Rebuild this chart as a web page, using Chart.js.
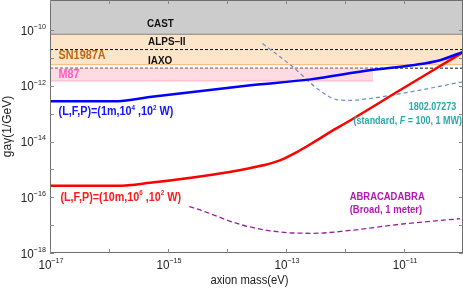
<!DOCTYPE html>
<html>
<head>
<meta charset="utf-8">
<script src="https://cdn.jsdelivr.net/npm/chart.js@4.4.1/dist/chart.umd.min.js"></script>
<style>
  html, body { margin: 0; padding: 0; background: #fff; }
  canvas { display: block; }
</style>
</head>
<body>
<canvas id="chart" width="463" height="291"></canvas>
<script>
// axion mass (eV) and coupling g (1/GeV)
const blueMass = [1e-17, 1.4e-16, 4.9e-16, 2.5e-14, 2.6e-13, 2.6e-12, 1.4e-11, 4.1e-11, 1e-10];
const blueG    = [2.8e-13, 2.8e-13, 4.0e-13, 1.05e-12, 1.7e-12, 3.6e-12, 5.5e-12, 8.3e-12, 1.66e-11];

const redMass = [1e-17, 1.4e-16, 4.9e-16, 1.1e-14, 4.1e-14, 7.9e-14, 1.53e-13, 2.87e-13, 5.57e-13,
                 1.22e-12, 8.5e-12, 6.0e-11, 1e-10];
const redG    = [2.6e-16, 2.6e-16, 3.3e-16, 8.1e-16, 1.4e-15, 2.1e-15, 4.2e-15, 9.1e-15, 2.17e-14,
                 5.7e-14, 6.9e-13, 8.3e-12, 1.6e-11];

const refMass = [4.0e-14, 1.3e-13, 3.4e-13, 7.2e-13, 1.2e-12, 2.6e-12, 1.26e-11, 1e-10];
const refG    = [3.3e-11, 4.8e-12, 7.9e-13, 3.2e-13, 3.0e-13, 3.5e-13, 6.0e-13, 1.4e-12];

const abraMass = [2.3e-15, 3.5e-15, 1.7e-14, 7.1e-14, 2.9e-13, 1.1e-12, 9.5e-12, 8.9e-11];
const abraG    = [4.6e-17, 3.5e-17, 1.05e-17, 5.8e-18, 5.1e-18, 6.3e-18, 1.1e-17, 1.7e-17];

// existing limits
const castLimit = 7e-11;
const alpsLimit = 2e-11;
const snLimit = 5.7e-12;
const iaxoLimit = 4.3e-12;
const m87Top = 4.5e-12;
const m87Limit = 1.5e-12;
const m87MaxMass = 3e-12;

const massRange = [1e-17, 1e-10];
const gRange = [1e-18, 1.2e-9];

// ticks (decade exponents)
const xDecades = [-17, -16, -15, -14, -13, -12, -11, -10];
const xLabelled = [-17, -15, -13, -11];
const yDecades = [-18, -17, -16, -15, -14, -13, -12, -11, -10];
const yLabelled = [-18, -16, -14, -12, -10];

const FAMILY = '"Liberation Sans", Arial, sans-serif';
const SX = 0.9; // figure text is a bit narrow

// text notes, anchored in data space
const notes = [
    { text: 'CAST', x: 4.4e-16, y: 1.6e-10, color: '#111', size: 11 },
    { text: 'ALPS–II', x: 4.6e-16, y: 3.7e-11, color: '#111', size: 11 },
    { text: 'IAXO', x: 4.6e-16, y: 7.6e-12, color: '#111', size: 11 },
    { text: 'SN1987A', x: 1.4e-17, y: 1.2e-11, color: '#c0650c', size: 12 },
    { text: 'M87', x: 1.4e-17, y: 2.6e-12, color: '#ff5cc0', size: 12 },
    { text: '(L,F,P)=(1m,10^{4} ,10^{2} W)', x: 1.4e-17, y: 1.15e-13, color: '#1515ff', size: 12 },
    { text: '(L,F,P)=(10m,10^{6} ,10^{2} W)', x: 1.5e-17, y: 9.8e-17, color: '#ff1a1a', size: 12 },
    { text: '1802.07273', x: 1.2e-11, y: 1.7e-13, color: '#2aa9a9', size: 10 },
    { text: '(standard, *{F} = 100, 1 MW)', x: 1.4e-12, y: 5.4e-14, color: '#2aa9a9', size: 10 },
    { text: 'ABRACADABRA', x: 1.2e-12, y: 1.05e-16, color: '#b01cb0', size: 10.5 },
    { text: '(Broad, 1 meter)', x: 1.2e-12, y: 3.5e-17, color: '#b01cb0', size: 10.5 }
];

function toPoints(xs, ys) {
    return xs.map((x, i) => ({ x: x, y: ys[i] }));
}

function flat(value, xs) {
    return xs.map(x => ({ x: x, y: value }));
}

// split "a^{b}*{c}" into normal / superscript / italic pieces
function splitRich(str) {
    const out = [];
    const re = /([\^*])\{([^}]*)\}/g;
    let last = 0, m;
    while ((m = re.exec(str))) {
        if (m.index > last) out.push({ text: str.slice(last, m.index), t: 'n' });
        out.push({ text: m[2], t: m[1] === '^' ? 's' : 'i' });
        last = re.lastIndex;
    }
    if (last < str.length) out.push({ text: str.slice(last), t: 'n' });
    return out;
}

function drawRich(ctx, str, x, y, o) {
    const size = o.size || 12;
    const weight = o.weight || 'bold';
    const segs = splitRich(str);
    const fontOf = t => (t === 'i' ? 'italic ' : '') + weight + ' ' + (t === 's' ? Math.round(size * 0.62) : size) + 'px ' + FAMILY;
    ctx.save();
    ctx.translate(x, y);
    ctx.scale(SX, 1);
    ctx.textBaseline = 'middle';
    ctx.textAlign = 'left';
    ctx.fillStyle = o.color || '#000';
    let w = 0;
    segs.forEach(s => { ctx.font = fontOf(s.t); s.w = ctx.measureText(s.text).width; w += s.w; });
    let cx = o.align === 'center' ? -w / 2 : (o.align === 'right' ? -w : 0);
    segs.forEach(s => {
        ctx.font = fontOf(s.t);
        ctx.fillText(s.text, cx, s.t === 's' ? -size * 0.33 : 0);
        cx += s.w;
    });
    ctx.restore();
}

const decorPlugin = {
    id: 'decor',
    afterDatasetsDraw(chart) {
        const { ctx, chartArea: a, scales } = chart;
        const xs = scales.x, ys = scales.y;

        // notes
        notes.forEach(n => {
            drawRich(ctx, n.text, xs.getPixelForValue(n.x), ys.getPixelForValue(n.y), { size: n.size, color: n.color });
        });

        // frame
        ctx.save();
        ctx.strokeStyle = '#6e6e6e';
        ctx.lineWidth = 1;
        ctx.strokeRect(a.left + 0.5, a.top + 0.5, a.right - a.left - 1, a.bottom - a.top - 1);

        // inward ticks on all sides
        ctx.strokeStyle = '#888';
        ctx.beginPath();
        xDecades.forEach(e => {
            const px = Math.round(xs.getPixelForValue(Math.pow(10, e))) + 0.5;
            ctx.moveTo(px, a.bottom); ctx.lineTo(px, a.bottom - 4);
            ctx.moveTo(px, a.top); ctx.lineTo(px, a.top + 4);
        });
        yDecades.forEach(e => {
            const py = Math.round(ys.getPixelForValue(Math.pow(10, e))) + 0.5;
            ctx.moveTo(a.left, py); ctx.lineTo(a.left + 4, py);
            ctx.moveTo(a.right, py); ctx.lineTo(a.right - 4, py);
        });
        ctx.stroke();
        ctx.restore();

        // tick labels
        xLabelled.forEach(e => {
            drawRich(ctx, '10^{−' + (-e) + '}', xs.getPixelForValue(Math.pow(10, e)) + 1, a.bottom + 12,
                { size: 13, weight: 'normal', color: '#222', align: 'center' });
        });
        yLabelled.forEach(e => {
            drawRich(ctx, '10^{−' + (-e) + '}', a.left - 4, ys.getPixelForValue(Math.pow(10, e)) + 1,
                { size: 13, weight: 'normal', color: '#222', align: 'right' });
        });

        // axis titles
        drawRich(ctx, 'axion mass(eV)', (a.left + a.right) / 2 - 7, a.bottom + 28,
            { size: 12.5, weight: 'normal', color: '#222', align: 'center' });
        ctx.save();
        ctx.translate(8, (a.top + a.bottom) / 2);
        ctx.rotate(-Math.PI / 2);
        ctx.font = 'normal 12px ' + FAMILY;
        ctx.fillStyle = '#222';
        ctx.textAlign = 'center';
        ctx.textBaseline = 'middle';
        ctx.fillText('gaγ(1/GeV)', 0, 0);
        ctx.restore();
    }
};

const curve = { pointRadius: 0, fill: false, cubicInterpolationMode: 'monotone' };
const band = { pointRadius: 0, borderWidth: 1 };

new Chart(document.getElementById('chart'), {
    type: 'line',
    data: {
        datasets: [
            // first dataset is drawn on top
            Object.assign({ data: toPoints(blueMass, blueG), borderColor: '#0000ff', borderWidth: 2.5 }, curve),
            Object.assign({ data: toPoints(redMass, redG), borderColor: '#ff0000', borderWidth: 2.5 }, curve),
            Object.assign({ data: toPoints(refMass, refG), borderColor: '#6a8fc8', borderWidth: 1.2, borderDash: [4, 3] }, curve),
            Object.assign({ data: toPoints(abraMass, abraG), borderColor: '#9a1f9a', borderWidth: 1.3, borderDash: [5, 3] }, curve),
            Object.assign({ data: flat(m87Limit, [massRange[0], m87MaxMass]), borderColor: '#ffb0bf',
                backgroundColor: 'rgba(255,185,198,0.5)', fill: { value: m87Top } }, band),
            Object.assign({ data: flat(iaxoLimit, massRange), borderColor: '#111', borderDash: [3, 2], fill: false }, band),
            Object.assign({ data: flat(alpsLimit, massRange), borderColor: '#111', borderDash: [3, 2], fill: false }, band),
            Object.assign({ data: flat(snLimit, massRange), borderColor: '#f8b56a',
                backgroundColor: '#fde5c9', fill: { value: castLimit } }, band),
            Object.assign({ data: flat(castLimit, massRange), borderColor: '#3a3a3a',
                backgroundColor: '#cccccc', fill: 'end' }, band)
        ]
    },
    options: {
        responsive: false,
        animation: false,
        devicePixelRatio: 1,
        layout: { padding: { left: 50, right: 0, top: 0, bottom: 38 } },
        plugins: { legend: { display: false }, tooltip: { enabled: false } },
        scales: {
            x: {
                type: 'logarithmic', min: massRange[0], max: massRange[1],
                ticks: { display: false }, grid: { display: false, drawTicks: false }, border: { display: false }
            },
            y: {
                type: 'logarithmic', min: gRange[0], max: gRange[1],
                ticks: { display: false }, grid: { display: false, drawTicks: false }, border: { display: false }
            }
        }
    },
    plugins: [decorPlugin]
});
</script>
</body>
</html>
